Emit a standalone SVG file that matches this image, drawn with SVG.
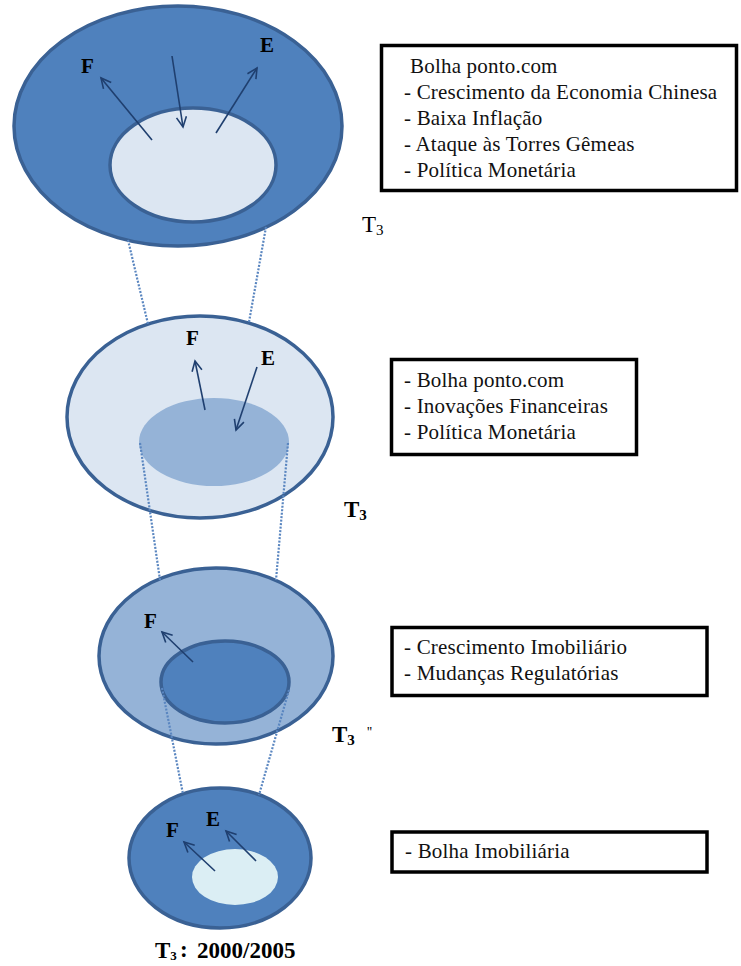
<svg xmlns="http://www.w3.org/2000/svg" width="741" height="966" viewBox="0 0 741 966">
<defs>
<style>
.dark{fill:#4f81bd;stroke:#3a6194;stroke-width:3.5}
.light{fill:#dce6f2;stroke:#3a6194;stroke-width:3.5}
.mid{fill:#95b3d7;stroke:#3a6194;stroke-width:3.5}
.arrow{fill:none;stroke:#1f3f6f;stroke-width:1.6;marker-end:url(#head)}
.dot{fill:none;stroke:#5a86c0;stroke-width:2.2;stroke-dasharray:2 1.5}
.box{fill:#fff;stroke:#000;stroke-width:3.5}
text{font-family:"Liberation Serif",serif}
.bt{font-size:21px;fill:#111;letter-spacing:0.2px}
.lbl{font-size:21px;font-weight:bold;fill:#000}
.tl{font-size:23px;fill:#000}
</style>
<marker id="head" markerWidth="14" markerHeight="14" refX="11" refY="6" orient="auto" markerUnits="userSpaceOnUse">
<path d="M1,1 L11,6 L1,11" fill="none" stroke="#1f3f6f" stroke-width="1.6"/>
</marker>
</defs>
<rect width="741" height="966" fill="#fff"/>

<g id="level1">
<ellipse class="dark" cx="178" cy="126" rx="164" ry="120"/>
<ellipse class="light" cx="193" cy="165" rx="83" ry="57"/>
<line class="arrow" x1="152" y1="140" x2="101" y2="78"/>
<line class="arrow" x1="172" y1="56" x2="183" y2="127"/>
<line class="arrow" x1="216" y1="133" x2="257" y2="68"/>
<text class="lbl" x="81" y="73">F</text>
<text class="lbl" x="260" y="52">E</text>
</g>

<g id="level2">
<ellipse class="light" cx="200" cy="417" rx="133" ry="101"/>
<ellipse cx="214" cy="442" rx="75" ry="44" fill="#95b3d7"/>
<line class="arrow" x1="205" y1="410" x2="195" y2="361"/>
<line class="arrow" x1="257" y1="367" x2="236" y2="430"/>
<text class="lbl" x="186" y="345">F</text>
<text class="lbl" x="261" y="365">E</text>
</g>

<g id="level3">
<ellipse class="mid" cx="216" cy="656" rx="117" ry="88"/>
<ellipse class="dark" cx="225" cy="682" rx="64" ry="41"/>
<line class="arrow" x1="193" y1="662" x2="162" y2="632"/>
<text class="lbl" x="144" y="628">F</text>
</g>

<g id="level4">
<ellipse class="dark" cx="220" cy="858" rx="91" ry="70"/>
<ellipse cx="235" cy="877" rx="43" ry="28" fill="#dbeef4"/>
<line class="arrow" x1="215" y1="871" x2="184" y2="842"/>
<line class="arrow" x1="256" y1="861" x2="226" y2="831"/>
<text class="lbl" x="166" y="837">F</text>
<text class="lbl" x="206" y="826">E</text>
</g>

<g id="connectors">
<line class="dot" x1="128" y1="240" x2="148" y2="324"/>
<line class="dot" x1="266" y1="227" x2="249" y2="322"/>
<line class="dot" x1="140" y1="443" x2="160" y2="580"/>
<line class="dot" x1="288" y1="443" x2="276" y2="580"/>
<line class="dot" x1="162" y1="688" x2="183" y2="794"/>
<line class="dot" x1="289" y1="690" x2="259" y2="795"/>
</g>

<g id="box1">
<rect class="box" x="381.5" y="45.5" width="355" height="145"/>
<text class="bt" x="410" y="73">Bolha ponto.com</text>
<text class="bt" x="404" y="99">- Crescimento da Economia Chinesa</text>
<text class="bt" x="404" y="125">- Baixa Inflação</text>
<text class="bt" x="404" y="151">- Ataque às Torres Gêmeas</text>
<text class="bt" x="404" y="177">- Política Monetária</text>
</g>

<g id="box2">
<rect class="box" x="391.5" y="359.5" width="245" height="95"/>
<text class="bt" x="404" y="387">- Bolha ponto.com</text>
<text class="bt" x="404" y="413">- Inovações Financeiras</text>
<text class="bt" x="404" y="439">- Política Monetária</text>
</g>

<g id="box3">
<rect class="box" x="392" y="627.5" width="315" height="68"/>
<text class="bt" x="404" y="654">- Crescimento Imobiliário</text>
<text class="bt" x="404" y="680">- Mudanças Regulatórias</text>
</g>

<g id="box4">
<rect class="box" x="392" y="832" width="315" height="40"/>
<text class="bt" x="405" y="858">- Bolha Imobiliária</text>
</g>

<g id="labels">
<text class="tl" x="362" y="232">T<tspan font-size="15" dy="3">3</tspan></text>
<text class="tl" x="344" y="517" font-weight="bold">T<tspan font-size="15" dy="3">3</tspan></text>
<text class="tl" x="332" y="742" font-weight="bold">T<tspan font-size="15" dy="3">3</tspan><tspan font-size="14" x="367" y="737" font-weight="normal">''</tspan></text>
<text class="tl" x="155" y="958" font-weight="bold" font-size="23">T<tspan font-size="13" dy="2">3</tspan><tspan x="180" y="957">:</tspan><tspan x="197" y="958">2000/2005</tspan></text>
</g>
</svg>
